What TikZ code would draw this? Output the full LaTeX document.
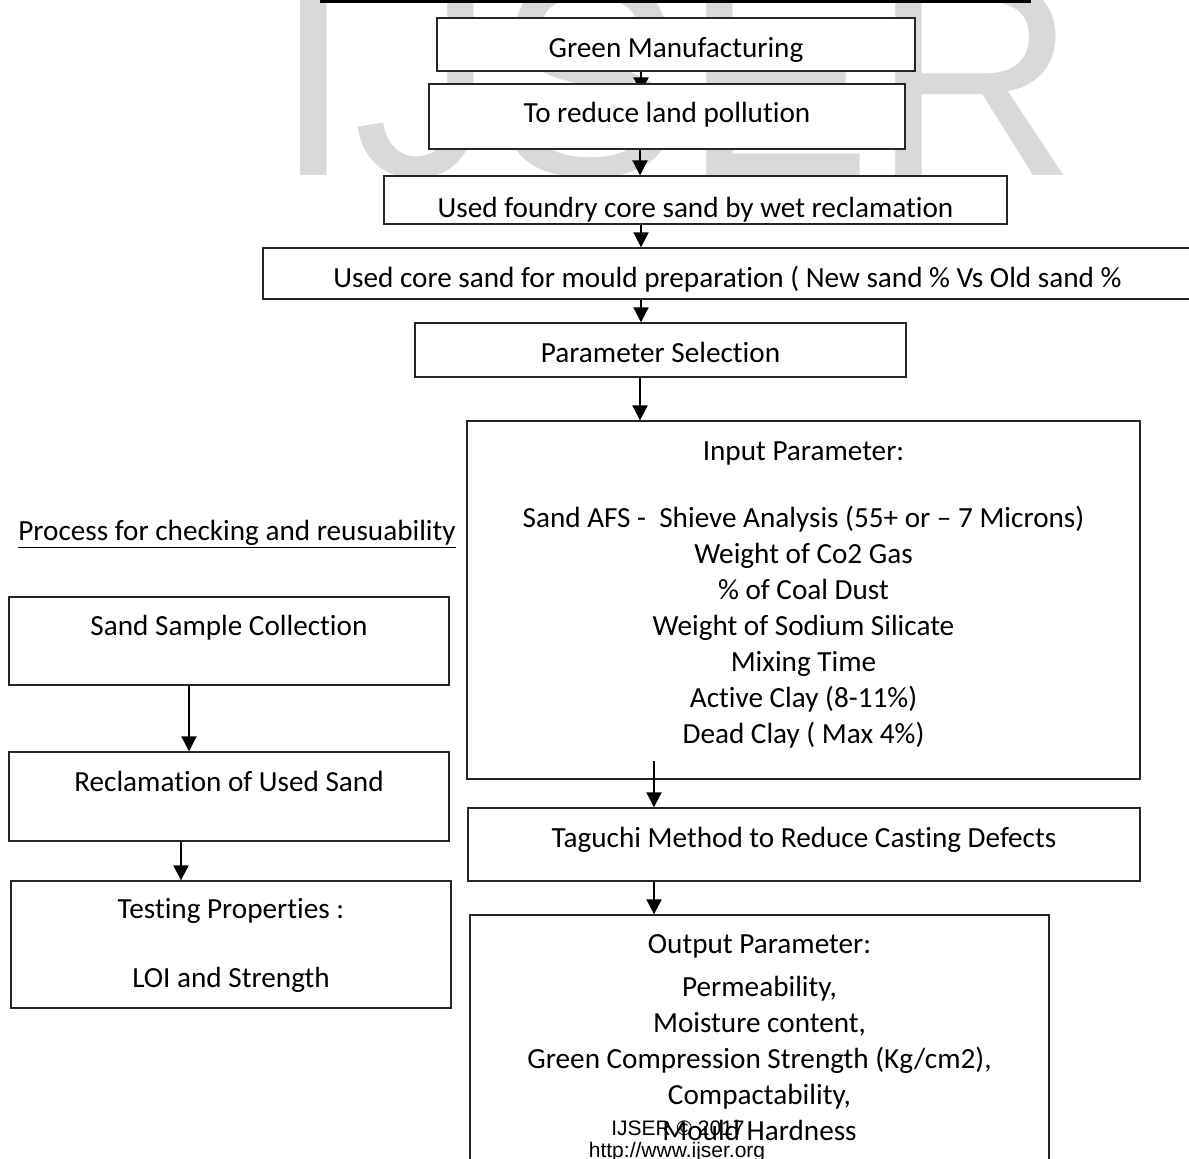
\documentclass[tikz,border=0pt]{standalone}
\usepackage{fontspec}
\setmainfont{Carlito}[Ligatures={TeX,NoCommon,NoContextual},Contextuals=NoAlternate]
\newfontfamily\wmfont{Liberation Sans}
\usetikzlibrary{arrows.meta}
\pgfdeclarelayer{bg}
\pgfsetlayers{bg,main}
\tikzset{
  box/.style={draw=black!85,line width=0.7pt,fill=white,inner sep=0pt,
    font=\fontsize{14.6pt}{18pt}\selectfont,text depth=0pt},
  arr/.style={-{Triangle[length=7.5pt,width=7.5pt]},line width=1pt},
  foot/.style={anchor=base,inner sep=0pt,font=\wmfont\fontsize{10.5pt}{12pt}\selectfont}
}
\begin{document}
\begin{tikzpicture}[x=0.5pt,y=-0.5pt]
        \useasboundingbox (0,0) rectangle (1189,1158);
        \begin{pgfonlayer}{bg}
        \node[anchor=base west,inner sep=0pt,text=black!15,font=\wmfont\fontsize{141.5pt}{150pt}\selectfont] (wm) at (274,175) {IJSER};
        \end{pgfonlayer}
        \draw[line width=1.7pt] (320,1.6) -- (1031,1.6);
        \node[box,minimum width=239pt,minimum height=26.5pt,text height=12.5pt] (gm) at (676,44.5) {Green Manufacturing};
        \node[box,minimum width=238pt,minimum height=32.5pt,text height=5.5pt] (trl) at (667,116.5) {To reduce land pollution};
        \node[box,minimum width=311.5pt,minimum height=24pt,text height=17pt] (ufc) at (695.5,200) {Used foundry core sand by wet reclamation};
        \node[box,minimum width=464.5pt,minimum height=25.5pt,text height=13.5pt] (ucs) at (727.5,273.5) {Used core sand for mould preparation ( New sand \% Vs Old sand \%};
        \node[box,minimum width=245.5pt,minimum height=27pt,text height=12pt] (ps) at (660.5,350) {Parameter Selection};
        \node[box,minimum width=336.5pt,minimum height=179pt,text height=0pt,text depth=140pt,text width=300pt,align=flush center] (ip) at (803.5,600)
          {Input Parameter:\\[15.5pt]
           Sand AFS -\ \ Shieve Analysis (55+ or – 7 Microns)\\
           Weight of Co2 Gas\\
           \% of Coal Dust\\
           Weight of Sodium Silicate\\
           Mixing Time\\
           Active Clay (8-11\%)\\
           Dead Clay ( Max 4\%)};
        \node[box,minimum width=336pt,minimum height=36.5pt,text height=2.5pt] (tm) at (804,844.5) {Taguchi Method to Reduce Casting Defects};
        \node[box,minimum width=289.5pt,minimum height=132.5pt,text height=0pt,text depth=94.5pt,text width=270pt,align=flush center] (op) at (759.5,1047.5)
          {Output Parameter:\\[3.5pt]
           Permeability,\\
           Moisture content,\\
           Green Compression Strength (Kg/cm2),\\
           Compactability,\\
           Mould Hardness};
        \node[anchor=base,inner sep=0pt,font=\fontsize{14.6pt}{18pt}\selectfont] (hdr) at (237,540) {\underline{Process for checking and reusuability}};
        \node[box,minimum width=220pt,minimum height=44pt,text height=0pt,text depth=6pt] (ssc) at (229,641) {Sand Sample Collection};
        \node[box,minimum width=220pt,minimum height=44.5pt,text height=0pt,text depth=5.5pt] (rus) at (229,796.5) {Reclamation of Used Sand};
        \node[box,minimum width=220pt,minimum height=63.5pt,text height=0pt,text depth=26.5pt,text width=200pt,align=flush center] (tp) at (231,944.5)
          {Testing Properties :\\[16.5pt]
           LOI and Strength};
        \node[foot] (cpy) at (678,1135) {IJSER © 2017};
        \node[foot] (url) at (677,1157) {http://www.ijser.org};
        \begin{pgfonlayer}{bg}
        \draw[arr] ([xshift=-17.5pt]gm.south) -- ([xshift=-13pt,yshift=-4.5pt]trl.north);
        \end{pgfonlayer}
        \draw[arr] ([xshift=-13.5pt]trl.south) -- ([xshift=-27.75pt]ufc.north);
        \draw[arr] ([xshift=-27.25pt]ufc.south) -- ([xshift=-43.25pt]ucs.north);
        \draw[arr] ([xshift=-43.25pt]ucs.south) -- ([xshift=-9.75pt]ps.north);
        \draw[arr] ([xshift=-10.25pt]ps.south) -- ([xshift=-81.75pt]ip.north);
        \draw[arr] ([xshift=-74.75pt,yshift=9.5pt]ip.south) -- ([xshift=-75pt]tm.north);
        \draw[arr] ([xshift=-75pt]tm.south) -- ([xshift=-52.75pt]op.north);
        \draw[arr] ([xshift=-20pt]ssc.south) -- ([xshift=-20pt]rus.north);
        \draw[arr] ([xshift=-24pt]rus.south) -- ([xshift=-25pt]tp.north);
\end{tikzpicture}
\end{document}
